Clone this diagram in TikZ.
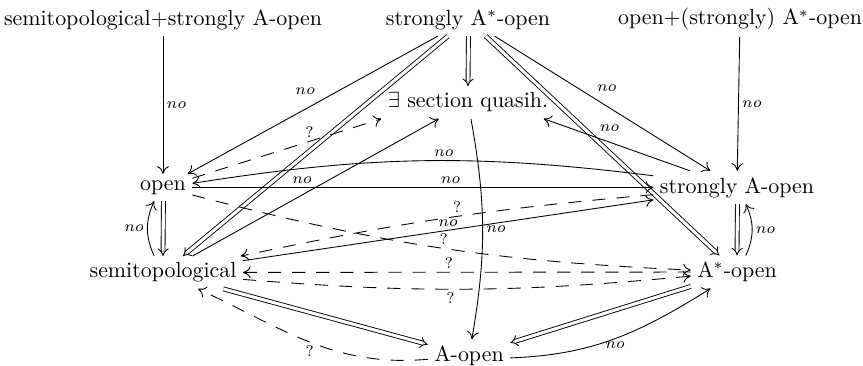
\documentclass[tikz,border=0pt]{standalone}
\usetikzlibrary{arrows.meta}
\begin{document}
\begin{tikzpicture}[x=0.4566pt,y=0.4566pt,
  obj/.style={inner sep=3pt, outer sep=0pt},
  lbl/.style={inner sep=1.5pt, font=\scriptsize},
  ar/.style={line width=0.4pt, -{To[length=3.5pt,width=5.5pt]}},
  imp/.style={line width=0.4pt, double, double distance=1.4pt, -{Implies}},
  qa/.style={ar, dash pattern=on 6pt off 5pt},
]
\useasboundingbox (0,0) rectangle (863,-366);
\node[obj] (sA)  at (163,-19.5)  {semitopological+strongly A-open};
\node[obj] (sAs) at (468,-19.5)  {strongly A$^*$-open};
\node[obj] (oAs) at (740,-19.5)  {open+(strongly) A$^*$-open};
\node[obj] (ex)  at (468,-102.5) {$\exists$ section quasih.};
\node[obj] (op)  at (163,-187.5) {open};
\node[obj] (sAo) at (737,-187.5) {strongly A-open};
\node[obj] (st)  at (163,-272.5) {semitopological};
\node[obj] (As)  at (737,-272)   {A$^*$-open};
\node[obj] (Ao)  at (469,-355.7) {A-open};

% vertical top arrows
\draw[ar] (sA) -- node[lbl,right] (l1) {$no$} (op);
\draw[ar] (oAs) -- node[lbl,right] (l2) {$no$} (sAo);
% implications
\draw[imp] ([xshift=0.2pt]sAs.south) -- (ex.north);
\draw[imp] (sAs) -- (st);
\draw[imp] (sAs) -- (As);
\draw[imp] ([xshift=0.2pt]op.south) -- (st.north);
\draw[imp] ([xshift=0.2pt]sAo.south) -- (As.north);
\draw[imp] (st) -- (Ao);
\draw[imp] (As) -- (Ao);
% from strongly A*-open
\draw[ar] (sAs) -- node[lbl,above=5pt,pos=0.53] (l3) {$no$} (op);
\draw[ar] (sAs) -- node[lbl,above=5pt,pos=0.52] (l4) {$no$} (sAo);
% side curves
\draw[ar] ([xshift=-4pt]st.north) to[out=115,in=245] node[lbl,left] (l5) {$no$} ([xshift=-4pt]op.south);
\draw[ar] ([xshift=4pt]As.north) to[out=65,in=-65] node[lbl,right] (l6) {$no$} ([xshift=4pt]sAo.south);
% bottom curves
\draw[ar] ([yshift=-1pt]Ao.east) to[out=2,in=212] node[lbl,below] (l7) {$no$} (As);
\draw[qa] (Ao) to[out=185,in=-25] node[lbl,below] (l8) {?} (st);
% section quasih.
\draw[ar] (ex) to[bend left=10] node[lbl,right] (l9) {$no$} (Ao);
\draw[ar] (sAo) -- node[lbl,above=3pt,pos=0.55] (l10) {$no$} ([xshift=-5pt]ex.south east);
\draw[ar] (st) -- node[lbl,above left,pos=0.5] (l11) {$no$} (ex);
\draw[qa] (op) -- node[lbl,above,pos=0.62] (l12) {?} (ex.south west);
% middle band
\draw[ar] (op) -- node[lbl,above,pos=0.56] (l13) {$no$} (sAo);
\draw[ar] (sAo) to[bend right=8] node[lbl,above,pos=0.45] (l14) {$no$} (op);
\draw[qa] (sAo) to[bend right=3.5] node[lbl,above,pos=0.47] (l15) {?} (st);
\draw[ar] (st) -- node[lbl,above] (l16) {$no$} (sAo);
\draw[qa] (op) to[bend right=6] node[lbl,above,pos=0.51] (l17) {?} (As);
\draw[qa] (As) -- node[lbl,above,pos=0.54] (l18) {?} (st);
\draw[qa] (st) to[bend right=5] node[lbl,below,pos=0.46] (l19) {?} (As);
\end{tikzpicture}
\end{document}
